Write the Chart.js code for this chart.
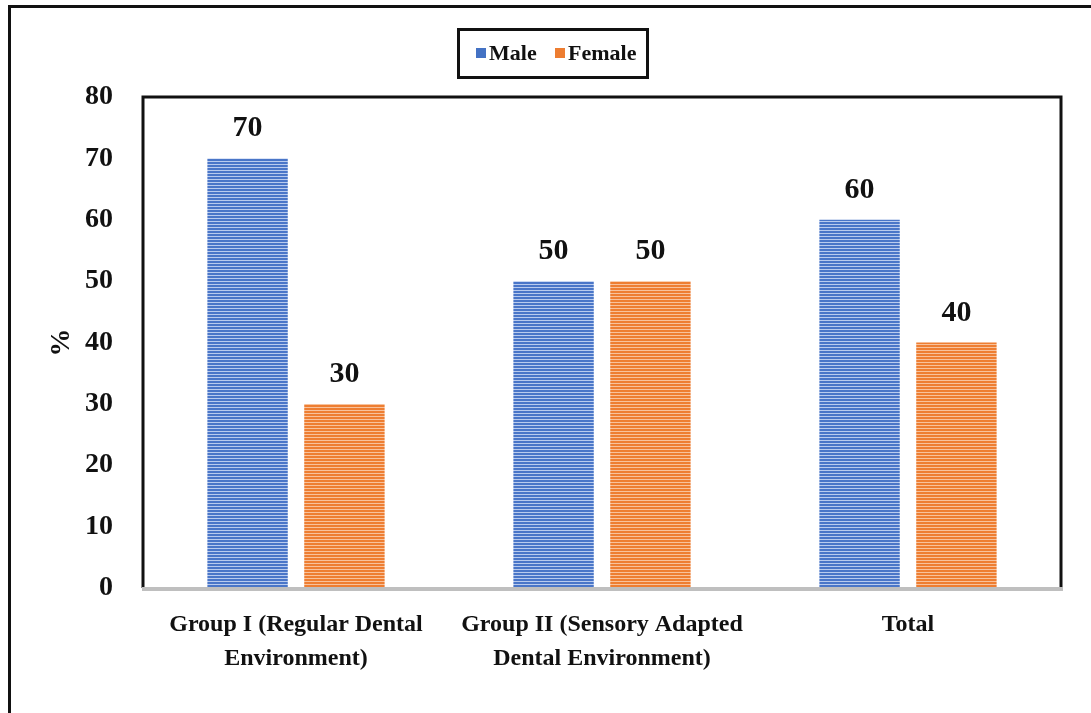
<!DOCTYPE html>
<html>
<head>
<meta charset="utf-8">
<script src="https://cdn.jsdelivr.net/npm/chart.js@4/dist/chart.umd.min.js"></script>
<style>
  html, body { margin: 0; padding: 0; background: #fff; }
  #wrap { width: 1091px; height: 713px; }
</style>
</head>
<body>
<div id="wrap"><canvas id="myChart" width="1091" height="713"></canvas></div>
<script>
// data
const groups = [
  ["Group I (Regular Dental", "Environment)"],
  ["Group II (Sensory Adapted", "Dental Environment)"],
  "Total"
];
const seriesNames = ["Male", "Female"];
const male = [70, 50, 60];
const female = [30, 50, 40];
const yTicks = [0, 10, 20, 30, 40, 50, 60, 70, 80];

const FONT = "'Liberation Serif', 'Times New Roman', serif";
const solid = ["#4472c4", "#ed7d31"];

// horizontal striped fill like the original
function stripes(base, light) {
  const c = document.createElement("canvas");
  c.width = 8; c.height = 3;
  const g = c.getContext("2d");
  g.fillStyle = base;
  g.fillRect(0, 0, 8, 3);
  g.fillStyle = light;
  g.fillRect(0, 2, 8, 1);
  return g.createPattern(c, "repeat");
}
const blueFill = stripes("#4a76c8", "#b9cbee");
const orangeFill = stripes("#ee7e32", "#f8c29c");

// frame, plot border, legend box, value labels
const decor = {
  id: "decor",
  beforeDraw(chart) {
    const ctx = chart.ctx;
    ctx.save();
    ctx.fillStyle = "#fff";
    ctx.fillRect(0, 0, chart.width, chart.height);
    ctx.restore();
  },
  afterDatasetsDraw(chart) {
    const ctx = chart.ctx;
    const a = chart.chartArea;
    ctx.save();
    // outer frame (only left/top visible)
    ctx.strokeStyle = "#111";
    ctx.lineWidth = 3;
    ctx.strokeRect(9.5, 6.5, 1300, 1000);
    // plot border
    ctx.beginPath();
    ctx.moveTo(a.left, a.bottom);
    ctx.lineTo(a.left, a.top);
    ctx.lineTo(a.right, a.top);
    ctx.lineTo(a.right, a.bottom);
    ctx.stroke();
    // x axis line (grey)
    ctx.strokeStyle = "#bfbfbf";
    ctx.lineWidth = 4;
    ctx.beginPath();
    ctx.moveTo(a.left - 1, a.bottom + 1);
    ctx.lineTo(a.right + 2, a.bottom + 1);
    ctx.stroke();

    // value labels
    ctx.fillStyle = "#111";
    ctx.font = "bold 30px " + FONT;
    ctx.textAlign = "center";
    ctx.textBaseline = "alphabetic";
    chart.data.datasets.forEach((ds, i) => {
      chart.getDatasetMeta(i).data.forEach((bar, j) => {
        ctx.fillText(String(ds.data[j]), bar.x, bar.y - 22);
      });
    });

    // legend
    ctx.strokeStyle = "#111";
    ctx.lineWidth = 3;
    ctx.strokeRect(458.5, 29.5, 189, 48);
    ctx.font = "bold 22px " + FONT;
    ctx.textAlign = "left";
    ctx.textBaseline = "middle";
    const lx = [476, 555];
    seriesNames.forEach((n, i) => {
      ctx.fillStyle = solid[i];
      ctx.fillRect(lx[i], 48, 10, 10);
      ctx.fillStyle = "#111";
      ctx.fillText(n, lx[i] + 13, 54);
    });
    ctx.restore();
  }
};

const config = {
  type: "bar",
  data: {
    labels: groups,
    datasets: [
      { label: seriesNames[0], data: male, backgroundColor: blueFill },
      { label: seriesNames[1], data: female, backgroundColor: orangeFill }
    ]
  },
  options: {
    responsive: false,
    animation: false,
    layout: { padding: { top: 97, right: 30, left: 0, bottom: 0 } },
    datasets: { bar: { categoryPercentage: 0.633, barPercentage: 0.83 } },
    plugins: { legend: { display: false }, tooltip: { enabled: false } },
    scales: {
      x: {
        grid: { display: false, drawTicks: false },
        border: { display: false },
        ticks: {
          color: "#111",
          font: { family: FONT, size: 24, weight: "bold", lineHeight: 1.4 },
          padding: 20,
          maxRotation: 0,
          autoSkip: false
        },
        afterFit(s) { s.height = 125; }
      },
      y: {
        min: 0,
        max: 80,
        afterBuildTicks(s) { s.ticks = yTicks.map(v => ({ value: v })); },
        grid: { display: false, drawTicks: false },
        border: { display: false },
        ticks: {
          color: "#111",
          font: { family: FONT, size: 28, weight: "bold" },
          padding: 30
        },
        title: {
          display: true,
          text: "%",
          color: "#111",
          font: { family: FONT, size: 28, weight: "bold" },
          padding: { top: 45, bottom: 0 }
        },
        afterFit(s) { s.width = 143; }
      }
    }
  },
  plugins: [decor]
};

let chart = new Chart(document.getElementById("myChart").getContext("2d"), config);
</script>
</body>
</html>
